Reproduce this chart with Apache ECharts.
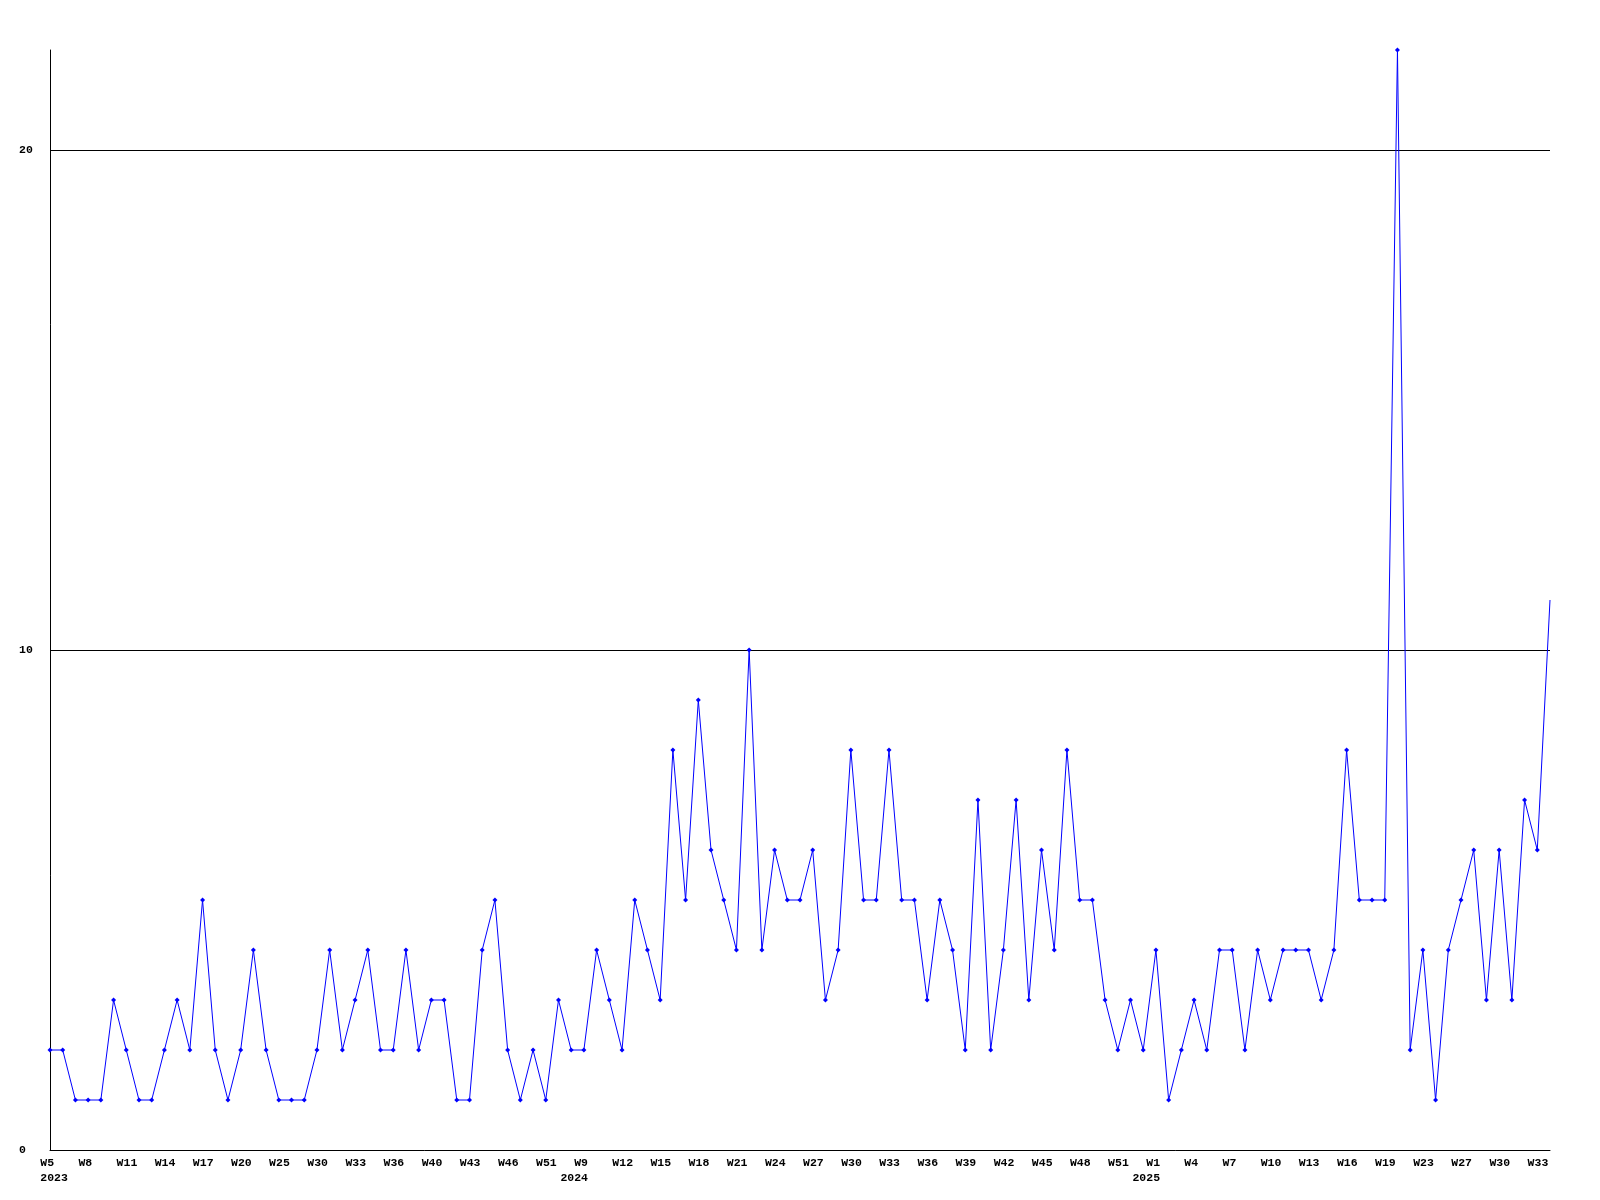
<!DOCTYPE html>
<html>
<head>
<meta charset="utf-8">
<script src="https://cdn.jsdelivr.net/npm/echarts@6/dist/echarts.min.js"></script>
<style>html,body{margin:0;padding:0;background:#fff}#c{width:1600px;height:1200px}</style>
</head>
<body>
<div id="c"></div>
<script>
// week numbers of each plotted point, per year
const weeks2023 = [5,6,7,8,9,10,11,12,13,14,15,16,17,18,19,20,22,23,25,27,28,30,31,32,33,34,35,36,38,39,40,41,42,43,44,45,46,48,49,51,52];
const weeks2024 = [4,9,10,11,12,13,14,15,16,17,18,19,20,21,22,23,24,25,26,27,28,29,30,31,32,33,34,35,36,37,38,39,40,41,42,43,44,45,46,47,48,49,50,51,52,53];
const weeks2025 = [1,2,3,4,5,6,7,8,9,10,11,12,13,14,15,16,17,18,19,20,22,23,24,26,27,28,29,30,31,32,33,34];

// weekly values
const values = [
  2,2,1,1,1,3,2,1,1,2,3,2,5,2,1,2,4,2,1,1,1,2,4,2,3,4,2,2,4,2,3,3,1,1,4,5,2,1,
  2,1,3,2,2,4,3,2,5,4,3,8,5,9,6,5,4,10,4,6,5,5,6,3,4,8,5,5,8,5,5,3,5,4,2,7,2,
  4,7,3,6,4,8,5,5,3,2,3,2,4,1,2,3,2,4,4,2,4,3,4,4,4,3,4,8,5,5,5,
  22,2,4,1,4,5,6,3,6,3,7,6,11
];

const yTicks = [0, 10, 20];
const labelEvery = 3;

const categories = []
  .concat(weeks2023.map(w => '2023-W' + w))
  .concat(weeks2024.map(w => '2024-W' + w))
  .concat(weeks2025.map(w => '2025-W' + w));

const FONT = '"Liberation Mono", "DejaVu Sans Mono", monospace';

const chart = echarts.init(document.getElementById('c'), null, {renderer: 'canvas'});
chart.setOption({
  animation: false,
  backgroundColor: '#ffffff',
  grid: {left: 50, right: 50, top: 50, bottom: 50, containLabel: false},
  xAxis: {
    type: 'category',
    data: categories,
    boundaryGap: false,
    axisLine: {show: true, lineStyle: {color: '#000', width: 1}},
    axisTick: {show: false},
    splitLine: {show: false},
    axisLabel: {
      interval: 0,
      hideOverlap: false,
      align: 'left',
      padding: [0, 0, 0, -23.5],
      margin: 5,
      lineHeight: 15.5,
      color: '#000',
      fontFamily: FONT,
      fontWeight: 'bold',
      fontSize: 11.5,
      formatter: function (value, index) {
        if (index % labelEvery !== 0) return '';
        const parts = value.split('-');
        const yr = parts[0], wk = parts[1];
        if (index === 0) return '  ' + wk + '\n  ' + yr;
        const prev = categories[index - labelEvery];
        if (prev && prev.split('-')[0] !== yr) return '  ' + wk + '\n' + yr;
        return '  ' + wk;
      }
    }
  },
  yAxis: {
    type: 'value',
    min: 0,
    max: 22,
    interval: 10,
    axisLine: {show: true, lineStyle: {color: '#000', width: 1}},
    axisTick: {show: false},
    splitLine: {show: true, showMinLine: false, showMaxLine: false, lineStyle: {color: '#000', width: 1}},
    axisLabel: {
      showMaxLabel: false,
      align: 'left',
      margin: 31,
      color: '#000',
      fontFamily: FONT,
      fontWeight: 'bold',
      fontSize: 11.5,
      formatter: function (v) { return yTicks.indexOf(v) >= 0 ? String(v) : ''; }
    }
  },
  series: [{
    type: 'line',
    data: values.map((v, i) => i === values.length - 1 ? {value: v, symbol: 'none'} : v),
    symbol: 'diamond',
    symbolSize: 5,
    showAllSymbol: true,
    itemStyle: {color: '#0000ff'},
    lineStyle: {color: '#0000ff', width: 1},
    clip: true
  }]
});
</script>
</body>
</html>
